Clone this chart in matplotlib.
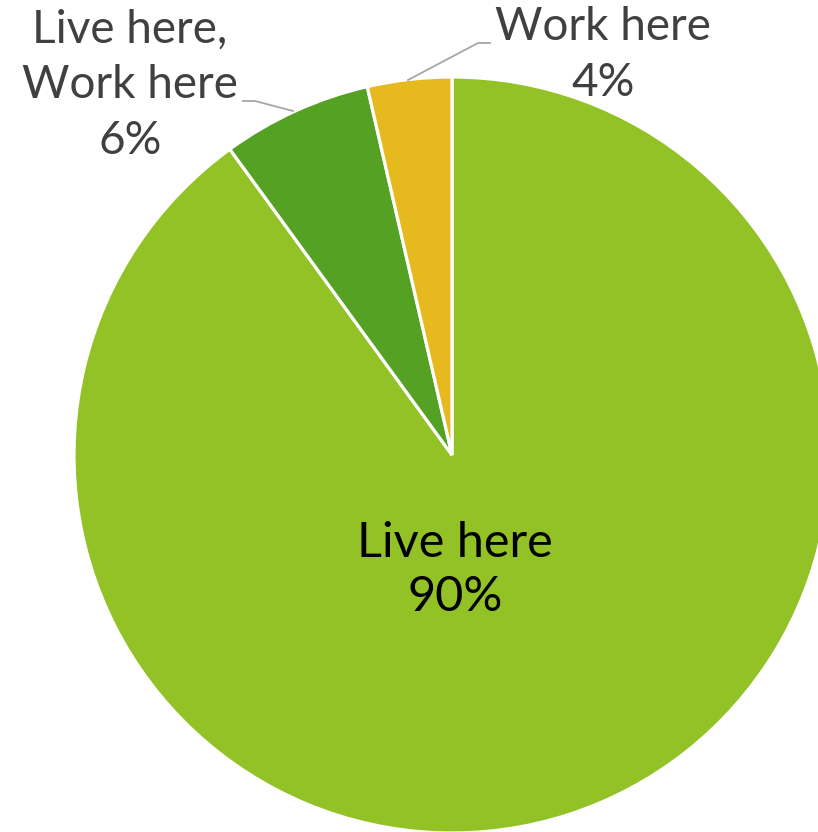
import matplotlib.pyplot as plt

# Daten
labels = ['Live here', 'Live here,\nWork here', 'Work here']
values = [90.0, 6.4, 3.6]
pct_text = ['90%', '6%', '4%']
colors = ['#92C225', '#55A124', '#E6B91F']

W, H = 818, 832
fig = plt.figure(figsize=(W / 100, H / 100), dpi=100)
ax = fig.add_axes([0, 0, 1, 1])
ax.set_xlim(0, W)
ax.set_ylim(0, H)
ax.set_aspect('equal')
ax.axis('off')

cx, cy, r = 452, H - 455, 378
ax.pie(values, colors=colors, startangle=90, counterclock=False,
       center=(cx, cy), radius=r,
       wedgeprops=dict(edgecolor='white', linewidth=2.3))
ax.set_xlim(0, W)
ax.set_ylim(0, H)

font = 'Lato'
gray = '#404040'

# Innenlabel
ax.text(455, H - 570, f'{labels[0]}\n{pct_text[0]}', ha='center', va='center',
        fontsize=35, family=font, color='black', linespacing=1.3)

# Aussenlabels
ax.text(130, H - 85, f'{labels[1]}\n{pct_text[1]}', ha='center', va='center',
        fontsize=33, family=font, color=gray, linespacing=1.4)
ax.text(603, H - 55, f'{labels[2]}\n{pct_text[2]}', ha='center', va='center',
        fontsize=33, family=font, color=gray, linespacing=1.4)

# Fuehrungslinien
ax.plot([243, 255, 293], [H - 101, H - 101, H - 111], color='#A6A6A6', lw=1.3)
ax.plot([490, 478, 408], [H - 43, H - 43, H - 80], color='#A6A6A6', lw=1.3)

fig.savefig('out.png', dpi=100)
